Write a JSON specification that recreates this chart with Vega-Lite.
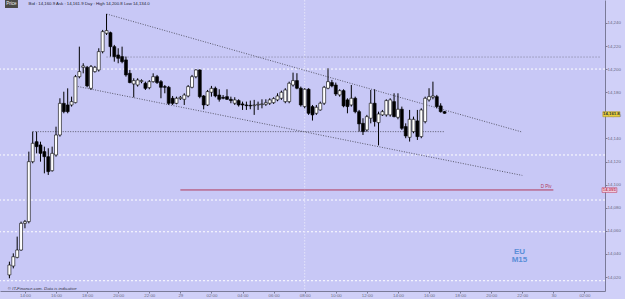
{
  "width": 605,
  "height": 291,
  "autosize": {"type": "none"},
  "padding": {"left": 0, "top": 0, "right": 20, "bottom": 8},
  "background": "#d0d0f8",
  "config": {"view": {"fill": "#c8c8f6", "stroke": null}, "font": "Liberation Sans", "axis": {"labelOverlap": false, "labelSeparation": 0, "labelBound": false}},
  "datasets": {
    "candles": [
      {"t":"2011-03-28T13:00:00Z","o":14021.8,"h":14033.3,"l":14018.9,"c":14030.4,"dir":"up"},
      {"t":"2011-03-28T13:15:00Z","o":14029.5,"h":14040.5,"l":14027.5,"c":14037.6,"dir":"up"},
      {"t":"2011-03-28T13:30:00Z","o":14037.0,"h":14055.0,"l":14036.2,"c":14043.4,"dir":"up"},
      {"t":"2011-03-28T13:45:00Z","o":14043.4,"h":14068.0,"l":14042.8,"c":14066.5,"dir":"up"},
      {"t":"2011-03-28T14:00:00Z","o":14066.5,"h":14069.4,"l":14062.2,"c":14068.0,"dir":"up"},
      {"t":"2011-03-28T14:15:00Z","o":14068.0,"h":14128.6,"l":14066.5,"c":14119.9,"dir":"up"},
      {"t":"2011-03-28T14:30:00Z","o":14119.9,"h":14145.9,"l":14118.5,"c":14135.8,"dir":"up"},
      {"t":"2011-03-28T14:45:00Z","o":14137.2,"h":14145.9,"l":14127.1,"c":14132.9,"dir":"down"},
      {"t":"2011-03-28T15:00:00Z","o":14134.4,"h":14137.2,"l":14119.9,"c":14127.1,"dir":"down"},
      {"t":"2011-03-28T15:15:00Z","o":14128.6,"h":14132.9,"l":14109.8,"c":14124.2,"dir":"down"},
      {"t":"2011-03-28T15:30:00Z","o":14124.2,"h":14131.5,"l":14108.4,"c":14111.3,"dir":"down"},
      {"t":"2011-03-28T15:45:00Z","o":14112.1,"h":14132.9,"l":14111.3,"c":14127.1,"dir":"up"},
      {"t":"2011-03-28T16:00:00Z","o":14125.7,"h":14150.2,"l":14124.2,"c":14143.0,"dir":"up"},
      {"t":"2011-03-28T16:15:00Z","o":14143.0,"h":14174.8,"l":14141.6,"c":14170.4,"dir":"up"},
      {"t":"2011-03-28T16:30:00Z","o":14170.4,"h":14180.5,"l":14161.8,"c":14163.2,"dir":"down"},
      {"t":"2011-03-28T16:45:00Z","o":14169.0,"h":14183.4,"l":14161.8,"c":14163.2,"dir":"down"},
      {"t":"2011-03-28T17:00:00Z","o":14169.0,"h":14176.2,"l":14167.6,"c":14171.9,"dir":"up"},
      {"t":"2011-03-28T17:15:00Z","o":14171.0,"h":14195.0,"l":14170.4,"c":14193.5,"dir":"up"},
      {"t":"2011-03-28T17:30:00Z","o":14193.5,"h":14219.5,"l":14192.1,"c":14197.9,"dir":"up"},
      {"t":"2011-03-28T17:45:00Z","o":14201.6,"h":14205.1,"l":14196.4,"c":14202.8,"dir":"up"},
      {"t":"2011-03-28T18:00:00Z","o":14201.6,"h":14202.8,"l":14184.3,"c":14185.5,"dir":"down"},
      {"t":"2011-03-28T18:15:00Z","o":14183.4,"h":14203.6,"l":14182.0,"c":14202.2,"dir":"up"},
      {"t":"2011-03-28T18:30:00Z","o":14197.9,"h":14202.8,"l":14197.0,"c":14201.6,"dir":"up"},
      {"t":"2011-03-28T18:45:00Z","o":14199.3,"h":14218.1,"l":14197.9,"c":14215.2,"dir":"up"},
      {"t":"2011-03-28T19:00:00Z","o":14215.2,"h":14234.0,"l":14213.7,"c":14232.5,"dir":"up"},
      {"t":"2011-03-28T19:15:00Z","o":14231.1,"h":14247.8,"l":14229.6,"c":14233.4,"dir":"up"},
      {"t":"2011-03-28T19:30:00Z","o":14231.6,"h":14232.5,"l":14210.9,"c":14219.5,"dir":"down"},
      {"t":"2011-03-28T19:45:00Z","o":14219.5,"h":14221.0,"l":14206.5,"c":14210.9,"dir":"down"},
      {"t":"2011-03-28T20:00:00Z","o":14212.3,"h":14218.1,"l":14205.1,"c":14209.4,"dir":"down"},
      {"t":"2011-03-28T20:15:00Z","o":14210.9,"h":14219.5,"l":14205.1,"c":14206.5,"dir":"down"},
      {"t":"2011-03-28T20:30:00Z","o":14208.0,"h":14210.9,"l":14193.5,"c":14195.0,"dir":"down"},
      {"t":"2011-03-28T20:45:00Z","o":14196.4,"h":14199.3,"l":14187.8,"c":14188.4,"dir":"down"},
      {"t":"2011-03-28T21:00:00Z","o":14187.2,"h":14192.1,"l":14175.6,"c":14190.1,"dir":"up"},
      {"t":"2011-03-28T21:15:00Z","o":14186.3,"h":14192.1,"l":14184.9,"c":14190.6,"dir":"up"},
      {"t":"2011-03-28T21:30:00Z","o":14189.2,"h":14191.2,"l":14187.8,"c":14190.1,"dir":"up"},
      {"t":"2011-03-28T21:45:00Z","o":14187.8,"h":14189.2,"l":14182.0,"c":14183.4,"dir":"down"},
      {"t":"2011-03-28T22:00:00Z","o":14184.0,"h":14190.6,"l":14182.6,"c":14189.2,"dir":"up"},
      {"t":"2011-03-28T22:15:00Z","o":14189.2,"h":14196.4,"l":14188.4,"c":14193.5,"dir":"up"},
      {"t":"2011-03-28T22:30:00Z","o":14193.5,"h":14195.0,"l":14187.2,"c":14188.4,"dir":"down"},
      {"t":"2011-03-28T22:45:00Z","o":14189.2,"h":14190.6,"l":14174.8,"c":14184.3,"dir":"down"},
      {"t":"2011-03-28T23:00:00Z","o":14184.9,"h":14186.3,"l":14179.1,"c":14184.3,"dir":"down"},
      {"t":"2011-03-28T23:15:00Z","o":14184.3,"h":14185.5,"l":14169.0,"c":14170.4,"dir":"down"},
      {"t":"2011-03-28T23:30:00Z","o":14174.8,"h":14176.8,"l":14169.0,"c":14170.4,"dir":"down"},
      {"t":"2011-03-28T23:45:00Z","o":14170.4,"h":14176.2,"l":14169.6,"c":14174.8,"dir":"up"},
      {"t":"2011-03-29T00:00:00Z","o":14174.5,"h":14176.8,"l":14173.3,"c":14175.6,"dir":"up"},
      {"t":"2011-03-29T00:15:00Z","o":14173.9,"h":14179.1,"l":14169.0,"c":14177.6,"dir":"up"},
      {"t":"2011-03-29T00:30:00Z","o":14176.8,"h":14186.3,"l":14175.6,"c":14184.9,"dir":"up"},
      {"t":"2011-03-29T00:45:00Z","o":14184.3,"h":14195.0,"l":14183.4,"c":14193.5,"dir":"up"},
      {"t":"2011-03-29T01:00:00Z","o":14193.5,"h":14199.9,"l":14192.1,"c":14199.3,"dir":"up"},
      {"t":"2011-03-29T01:15:00Z","o":14199.3,"h":14199.9,"l":14174.8,"c":14176.2,"dir":"down"},
      {"t":"2011-03-29T01:30:00Z","o":14176.8,"h":14177.6,"l":14165.2,"c":14169.0,"dir":"down"},
      {"t":"2011-03-29T01:45:00Z","o":14169.0,"h":14182.0,"l":14168.1,"c":14180.6,"dir":"up"},
      {"t":"2011-03-29T02:00:00Z","o":14180.0,"h":14185.5,"l":14176.2,"c":14183.4,"dir":"up"},
      {"t":"2011-03-29T02:15:00Z","o":14183.4,"h":14184.9,"l":14175.6,"c":14176.8,"dir":"down"},
      {"t":"2011-03-29T02:30:00Z","o":14177.6,"h":14182.6,"l":14171.9,"c":14173.9,"dir":"down"},
      {"t":"2011-03-29T02:45:00Z","o":14175.6,"h":14177.6,"l":14173.9,"c":14174.8,"dir":"down"},
      {"t":"2011-03-29T03:00:00Z","o":14176.2,"h":14182.6,"l":14173.3,"c":14173.9,"dir":"down"},
      {"t":"2011-03-29T03:15:00Z","o":14173.9,"h":14176.2,"l":14170.5,"c":14172.8,"dir":"down"},
      {"t":"2011-03-29T03:30:00Z","o":14170.5,"h":14175.7,"l":14169.0,"c":14173.4,"dir":"up"},
      {"t":"2011-03-29T03:45:00Z","o":14172.8,"h":14173.9,"l":14167.6,"c":14169.0,"dir":"down"},
      {"t":"2011-03-29T04:00:00Z","o":14169.9,"h":14171.9,"l":14164.7,"c":14169.0,"dir":"down"},
      {"t":"2011-03-29T04:15:00Z","o":14169.0,"h":14171.9,"l":14164.7,"c":14168.4,"dir":"down"},
      {"t":"2011-03-29T04:30:00Z","o":14168.7,"h":14172.8,"l":14165.3,"c":14168.2,"dir":"down"},
      {"t":"2011-03-29T04:45:00Z","o":14168.4,"h":14173.4,"l":14160.4,"c":14169.0,"dir":"up"},
      {"t":"2011-03-29T05:00:00Z","o":14169.0,"h":14171.9,"l":14164.7,"c":14169.6,"dir":"up"},
      {"t":"2011-03-29T05:15:00Z","o":14169.3,"h":14173.9,"l":14166.1,"c":14169.9,"dir":"up"},
      {"t":"2011-03-29T05:30:00Z","o":14169.6,"h":14173.9,"l":14168.2,"c":14171.0,"dir":"up"},
      {"t":"2011-03-29T05:45:00Z","o":14170.5,"h":14174.8,"l":14169.0,"c":14173.4,"dir":"up"},
      {"t":"2011-03-29T06:00:00Z","o":14171.0,"h":14175.7,"l":14169.9,"c":14174.5,"dir":"up"},
      {"t":"2011-03-29T06:15:00Z","o":14173.4,"h":14179.1,"l":14172.2,"c":14176.8,"dir":"up"},
      {"t":"2011-03-29T06:30:00Z","o":14174.8,"h":14181.4,"l":14173.4,"c":14180.0,"dir":"up"},
      {"t":"2011-03-29T06:45:00Z","o":14171.9,"h":14183.5,"l":14170.5,"c":14182.0,"dir":"up"},
      {"t":"2011-03-29T07:00:00Z","o":14171.9,"h":14189.2,"l":14170.5,"c":14187.8,"dir":"up"},
      {"t":"2011-03-29T07:15:00Z","o":14186.3,"h":14197.0,"l":14184.9,"c":14190.1,"dir":"up"},
      {"t":"2011-03-29T07:30:00Z","o":14190.1,"h":14196.5,"l":14182.6,"c":14183.5,"dir":"down"},
      {"t":"2011-03-29T07:45:00Z","o":14183.5,"h":14184.9,"l":14167.6,"c":14169.0,"dir":"down"},
      {"t":"2011-03-29T08:00:00Z","o":14167.6,"h":14183.5,"l":14166.1,"c":14182.6,"dir":"up"},
      {"t":"2011-03-29T08:15:00Z","o":14182.6,"h":14183.5,"l":14160.4,"c":14161.8,"dir":"down"},
      {"t":"2011-03-29T08:30:00Z","o":14167.6,"h":14169.0,"l":14155.5,"c":14160.4,"dir":"down"},
      {"t":"2011-03-29T08:45:00Z","o":14161.8,"h":14169.0,"l":14160.4,"c":14167.0,"dir":"up"},
      {"t":"2011-03-29T09:00:00Z","o":14164.7,"h":14171.9,"l":14164.1,"c":14170.5,"dir":"up"},
      {"t":"2011-03-29T09:15:00Z","o":14170.5,"h":14185.5,"l":14169.0,"c":14184.3,"dir":"up"},
      {"t":"2011-03-29T09:30:00Z","o":14183.5,"h":14200.8,"l":14182.6,"c":14189.2,"dir":"up"},
      {"t":"2011-03-29T09:45:00Z","o":14188.4,"h":14190.7,"l":14184.3,"c":14185.5,"dir":"down"},
      {"t":"2011-03-29T10:00:00Z","o":14186.3,"h":14188.4,"l":14176.8,"c":14178.5,"dir":"down"},
      {"t":"2011-03-29T10:15:00Z","o":14177.7,"h":14182.6,"l":14176.2,"c":14181.4,"dir":"up"},
      {"t":"2011-03-29T10:30:00Z","o":14181.4,"h":14182.6,"l":14167.0,"c":14168.2,"dir":"down"},
      {"t":"2011-03-29T10:45:00Z","o":14173.4,"h":14174.8,"l":14161.8,"c":14167.6,"dir":"down"},
      {"t":"2011-03-29T11:00:00Z","o":14169.0,"h":14186.3,"l":14167.6,"c":14174.8,"dir":"up"},
      {"t":"2011-03-29T11:15:00Z","o":14174.8,"h":14176.2,"l":14161.8,"c":14163.2,"dir":"down"},
      {"t":"2011-03-29T11:30:00Z","o":14163.2,"h":14164.7,"l":14145.9,"c":14152.6,"dir":"down"},
      {"t":"2011-03-29T11:45:00Z","o":14153.1,"h":14157.5,"l":14143.0,"c":14145.9,"dir":"down"},
      {"t":"2011-03-29T12:00:00Z","o":14147.4,"h":14160.4,"l":14145.9,"c":14158.9,"dir":"up"},
      {"t":"2011-03-29T12:15:00Z","o":14157.5,"h":14182.0,"l":14153.1,"c":14170.5,"dir":"up"},
      {"t":"2011-03-29T12:30:00Z","o":14170.5,"h":14182.6,"l":14150.3,"c":14154.6,"dir":"down"},
      {"t":"2011-03-29T12:45:00Z","o":14153.7,"h":14163.2,"l":14134.0,"c":14161.2,"dir":"up"},
      {"t":"2011-03-29T13:00:00Z","o":14160.4,"h":14164.7,"l":14159.5,"c":14163.2,"dir":"up"},
      {"t":"2011-03-29T13:15:00Z","o":14160.4,"h":14173.9,"l":14158.9,"c":14172.8,"dir":"up"},
      {"t":"2011-03-29T13:30:00Z","o":14160.4,"h":14174.8,"l":14158.9,"c":14173.4,"dir":"up"},
      {"t":"2011-03-29T13:45:00Z","o":14171.9,"h":14179.1,"l":14158.3,"c":14158.9,"dir":"down"},
      {"t":"2011-03-29T14:00:00Z","o":14158.3,"h":14179.1,"l":14156.6,"c":14165.3,"dir":"up"},
      {"t":"2011-03-29T14:15:00Z","o":14165.3,"h":14167.6,"l":14147.4,"c":14148.8,"dir":"down"},
      {"t":"2011-03-29T14:30:00Z","o":14150.3,"h":14153.1,"l":14140.2,"c":14142.2,"dir":"down"},
      {"t":"2011-03-29T14:45:00Z","o":14141.0,"h":14164.7,"l":14137.3,"c":14156.6,"dir":"up"},
      {"t":"2011-03-29T15:00:00Z","o":14145.9,"h":14158.9,"l":14144.5,"c":14156.6,"dir":"up"},
      {"t":"2011-03-29T15:15:00Z","o":14155.2,"h":14164.7,"l":14138.7,"c":14141.6,"dir":"down"},
      {"t":"2011-03-29T15:30:00Z","o":14141.6,"h":14166.1,"l":14140.2,"c":14164.7,"dir":"up"},
      {"t":"2011-03-29T15:45:00Z","o":14154.6,"h":14176.2,"l":14153.1,"c":14174.8,"dir":"up"},
      {"t":"2011-03-29T16:00:00Z","o":14173.4,"h":14183.5,"l":14171.9,"c":14176.2,"dir":"up"},
      {"t":"2011-03-29T16:15:00Z","o":14175.7,"h":14189.2,"l":14173.9,"c":14176.8,"dir":"up"},
      {"t":"2011-03-29T16:30:00Z","o":14176.2,"h":14177.7,"l":14166.1,"c":14167.6,"dir":"down"},
      {"t":"2011-03-29T16:45:00Z","o":14168.2,"h":14170.5,"l":14162.4,"c":14163.2,"dir":"down"},
      {"t":"2011-03-29T17:00:00Z","o":14163.2,"h":14163.8,"l":14161.4,"c":14161.8,"dir":"down"}
    ],
    "levels": [{"p":14200.1},{"p":14125.7},{"p":14086.7},{"p":14059.2},{"p":14016.8}],
    "darkdots": [
      {"t1":"2011-03-28T14:30:00Z","t2":"2011-03-29T17:00:00Z","p1":14145.9,"p2":14145.9},
      {"t1":"2011-03-28T19:15:00Z","t2":"2011-03-29T22:00:00Z","p1":14247.8,"p2":14145.5},
      {"t1":"2011-03-28T17:15:00Z","t2":"2011-03-29T22:00:00Z","p1":14185.4,"p2":14108.0}
    ],
    "graydots": [{"t1":"2011-03-28T19:15:00Z","t2":"2011-03-30T03:00:00Z","p1":14210.5,"p2":14210.5}],
    "pivot": [{"t1":"2011-03-29T00:00:00Z","t2":"2011-03-30T00:00:00Z","p1":14095.4,"p2":14095.4}],
    "vline": [{"t":"2011-03-29T08:00:00Z"}],
    "boxHeader": [{"t1":"2011-03-28T12:43:00Z","t2":"2011-03-28T13:33:00Z","p1":14259.9,"p2":14253.0}],
    "boxBid": [{"t1":"2011-03-30T03:11:00Z","t2":"2011-03-30T04:17:00Z","p1":14163.2,"p2":14158.8}],
    "boxPiv": [{"t1":"2011-03-30T03:08:00Z","t2":"2011-03-30T04:05:00Z","p1":14097.3,"p2":14093.3}],
    "txtPrice": [{"t":"2011-03-28T13:08:00Z","p":14256.3,"text":"Price"}],
    "txtHeader": [{"t":"2011-03-28T14:14:00Z","p":14256.3,"text":"Bid : 14,160.9 Ask : 14,161.9  Day : High 14,200.8 Low 14,134.0"}],
    "txtCopy": [{"t":"2011-03-28T12:54:00Z","p":14009.8,"text":"© IT-Finance.com. Data is indicative"}],
    "txtDpiv": [{"t":"2011-03-29T23:53:00Z","p":14098.2,"text":"D Piv"}],
    "txtEU": [
      {"t":"2011-03-29T21:49:00Z","p":14042.1,"text":"EU"},
      {"t":"2011-03-29T21:49:00Z","p":14034.8,"text":"M15"}
    ],
    "txtBid": [{"t":"2011-03-30T03:44:00Z","p":14161.0,"text":"14,161.8"}],
    "txtPiv": [{"t":"2011-03-30T03:36:00Z","p":14095.3,"text":"14,095"}]
  },
  "layer": [
    {
      "data": {"name": "levels"},
      "mark": {"type": "rule", "color": "#ffffff", "strokeWidth": 1, "strokeDash": [2, 2]},
      "encoding": {
        "y": {"field": "p", "type": "quantitative", "title": null,
          "scale": {"domain": [14007.9, 14259.9], "nice": false, "zero": false},
          "axis": {"orient": "right", "values": [14020,14040,14060,14080,14100,14120,14140,14160,14180,14200,14220,14240], "tickCount": 40, "format": ",", "grid": false, "labelOverlap": false,
            "labelFontSize": 4.4, "labelColor": "#6a6a84", "tickSize": 2, "tickColor": "#7a7a98", "domainColor": "#7a7a98", "labelPadding": 0}}
      }
    },
    {
      "data": {"name": "vline"},
      "mark": {"type": "rule", "color": "#e4e4fa", "strokeWidth": 1, "strokeDash": [1.5, 1.5]},
      "encoding": {
        "x": {"field": "t", "type": "temporal", "title": null,
          "scale": {"domain": [1301316180000, 1301454000000]},
          "axis": {"orient": "bottom", "grid": false, "tickCount": 60,
            "values": [1301320800000,1301328000000,1301335200000,1301342400000,1301349600000,1301356800000,1301364000000,1301371200000,1301378400000,1301385600000,1301392800000,1301400000000,1301407200000,1301414400000,1301421600000,1301428800000,1301436000000,1301443200000,1301450400000],
            "labelExpr": "hours(datum.value) == 0 ? timeFormat(datum.value, '%d') : timeFormat(datum.value, '%H:%M')",
            "labelFontSize": 4.4, "labelColor": "#6a6a84", "labelPadding": 0, "tickSize": 2, "tickColor": "#7a7a98", "domainColor": "#7a7a98", "labelOverlap": false, "labelFlush": false}}
      }
    },
    {
      "data": {"name": "graydots"},
      "mark": {"type": "rule", "color": "#7c7c94", "strokeWidth": 1, "strokeDash": [1, 2]},
      "encoding": {
        "x": {"field": "t1", "type": "temporal", "title": null}, "x2": {"field": "t2"},
        "y": {"field": "p1", "type": "quantitative", "title": null}, "y2": {"field": "p2"}
      }
    },
    {
      "data": {"name": "darkdots"},
      "mark": {"type": "rule", "color": "#3c3c48", "strokeWidth": 0.8, "strokeDash": [1, 1.5]},
      "encoding": {
        "x": {"field": "t1", "type": "temporal", "title": null}, "x2": {"field": "t2"},
        "y": {"field": "p1", "type": "quantitative", "title": null}, "y2": {"field": "p2"}
      }
    },
    {
      "data": {"name": "pivot"},
      "mark": {"type": "rule", "color": "#b03a5a", "strokeWidth": 1},
      "encoding": {
        "x": {"field": "t1", "type": "temporal", "title": null}, "x2": {"field": "t2"},
        "y": {"field": "p1", "type": "quantitative", "title": null}, "y2": {"field": "p2"}
      }
    },
    {
      "data": {"name": "candles"},
      "mark": {"type": "rule", "color": "#000000", "strokeWidth": 1},
      "encoding": {
        "x": {"field": "t", "type": "temporal", "title": null},
        "y": {"field": "l", "type": "quantitative", "title": null}, "y2": {"field": "h"}
      }
    },
    {
      "data": {"name": "candles"},
      "mark": {"type": "bar", "width": 3, "stroke": "#000000", "strokeWidth": 0.6},
      "encoding": {
        "x": {"field": "t", "type": "temporal", "title": null},
        "y": {"field": "o", "type": "quantitative", "title": null}, "y2": {"field": "c"},
        "fill": {"field": "dir", "type": "nominal", "scale": {"domain": ["up", "down"], "range": ["#ffffff", "#000000"]}, "legend": null}
      }
    },
    {
      "data": {"name": "boxHeader"},
      "mark": {"type": "rect", "fill": "#4b4a46"},
      "encoding": {
        "x": {"field": "t1", "type": "temporal", "title": null}, "x2": {"field": "t2"},
        "y": {"field": "p1", "type": "quantitative", "title": null}, "y2": {"field": "p2"}
      }
    },
    {
      "data": {"name": "boxBid"},
      "mark": {"type": "rect", "fill": "#e8cf3c", "stroke": "#a08a20", "strokeWidth": 0.5},
      "encoding": {
        "x": {"field": "t1", "type": "temporal", "title": null}, "x2": {"field": "t2"},
        "y": {"field": "p1", "type": "quantitative", "title": null}, "y2": {"field": "p2"}
      }
    },
    {
      "data": {"name": "boxPiv"},
      "mark": {"type": "rect", "fill": "#f2d6e8", "stroke": "#c03a5a", "strokeWidth": 0.6},
      "encoding": {
        "x": {"field": "t1", "type": "temporal", "title": null}, "x2": {"field": "t2"},
        "y": {"field": "p1", "type": "quantitative", "title": null}, "y2": {"field": "p2"}
      }
    },
    {
      "data": {"name": "txtPrice"},
      "mark": {"type": "text", "fontSize": 4.5, "color": "#f0f0f0", "align": "center", "baseline": "middle"},
      "encoding": {"x": {"field": "t", "type": "temporal", "title": null}, "y": {"field": "p", "type": "quantitative", "title": null}, "text": {"field": "text"}}
    },
    {
      "data": {"name": "txtHeader"},
      "mark": {"type": "text", "fontSize": 4.3, "color": "#222233", "align": "left", "baseline": "middle"},
      "encoding": {"x": {"field": "t", "type": "temporal", "title": null}, "y": {"field": "p", "type": "quantitative", "title": null}, "text": {"field": "text"}}
    },
    {
      "data": {"name": "txtCopy"},
      "mark": {"type": "text", "fontSize": 4.3, "fontStyle": "italic", "color": "#333344", "align": "left", "baseline": "middle"},
      "encoding": {"x": {"field": "t", "type": "temporal", "title": null}, "y": {"field": "p", "type": "quantitative", "title": null}, "text": {"field": "text"}}
    },
    {
      "data": {"name": "txtDpiv"},
      "mark": {"type": "text", "fontSize": 4.5, "color": "#b03a5a", "align": "right", "baseline": "middle"},
      "encoding": {"x": {"field": "t", "type": "temporal", "title": null}, "y": {"field": "p", "type": "quantitative", "title": null}, "text": {"field": "text"}}
    },
    {
      "data": {"name": "txtEU"},
      "mark": {"type": "text", "fontSize": 8, "fontWeight": "bold", "color": "#5a8ed8", "align": "center", "baseline": "middle"},
      "encoding": {"x": {"field": "t", "type": "temporal", "title": null}, "y": {"field": "p", "type": "quantitative", "title": null}, "text": {"field": "text"}}
    },
    {
      "data": {"name": "txtBid"},
      "mark": {"type": "text", "fontSize": 4.3, "fontWeight": "bold", "color": "#333333", "align": "center", "baseline": "middle"},
      "encoding": {"x": {"field": "t", "type": "temporal", "title": null}, "y": {"field": "p", "type": "quantitative", "title": null}, "text": {"field": "text"}}
    },
    {
      "data": {"name": "txtPiv"},
      "mark": {"type": "text", "fontSize": 4.3, "fontWeight": "bold", "color": "#c03a5a", "align": "center", "baseline": "middle"},
      "encoding": {"x": {"field": "t", "type": "temporal", "title": null}, "y": {"field": "p", "type": "quantitative", "title": null}, "text": {"field": "text"}}
    }
  ]
}
